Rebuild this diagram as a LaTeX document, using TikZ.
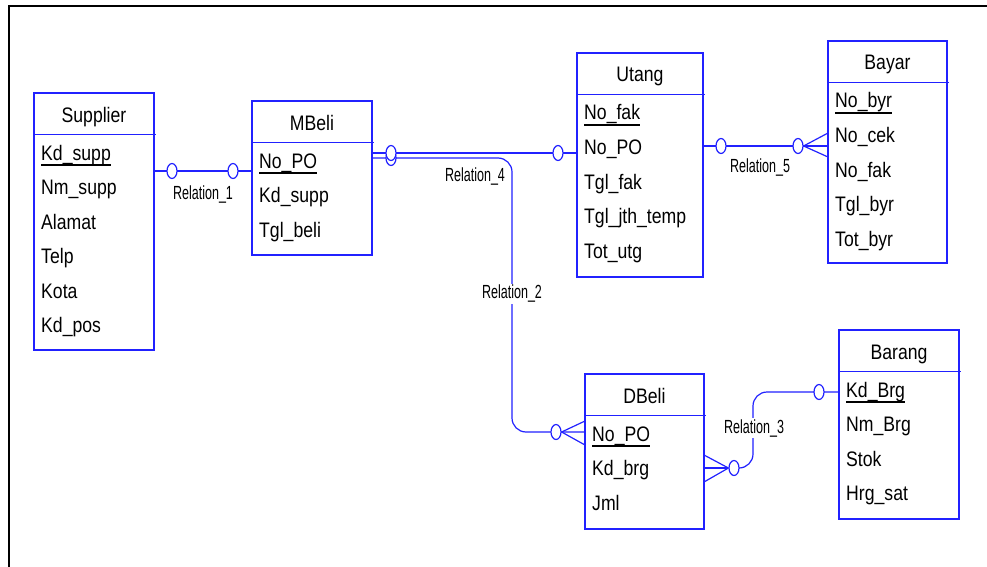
\documentclass[tikz,border=0pt]{standalone}
\usepackage{fontspec}
\setmainfont{Liberation Sans}
\newfontfamily\entfont[FakeStretch=0.84]{Liberation Sans}
\newfontfamily\relfont[FakeStretch=0.66]{Liberation Sans}
\usetikzlibrary{calc,shapes.geometric}
\definecolor{eblue}{rgb}{0.13,0.13,1}
\newcommand\keyul[1]{\setbox0=\hbox{#1}\rlap{\rule[-6pt]{\wd0}{2pt}}\box0}
\tikzset{
  ent/.style={draw=eblue, line width=1.2pt, fill=white, anchor=north west, inner sep=0pt, outer sep=0pt},
  eline/.style={draw=eblue, line width=1.2pt},
  rel/.style={draw=eblue, line width=1.2pt},
  etext/.style={font=\entfont\fontsize{21}{22}\selectfont, inner sep=0pt, text=black},
  oc/.style={ellipse, draw=eblue, line width=1.2pt, fill=white, minimum width=10pt, minimum height=15pt, inner sep=0pt},
  lbl/.style={font=\relfont\fontsize{19}{20}\selectfont, fill=white, inner sep=1.5pt, text=black},
}
\newcommand\mkent[7]{%
  \node[ent, minimum width=#4pt, minimum height=#5pt] (#1) at (#2,#3) {};
  \draw[eline] ($(#1.north west)+(0,41.5)$) -- ++(#4+2,0);
  \node[etext, anchor=base] (#1-t) at ($(#1.north)+(0,29)$) {#6};
  \foreach \r [count=\i] in {#7} {
    \node[etext, anchor=base west] (#1-\i) at ($(#1.north west)+(7,{32.5+34.5*\i})$) {\ifnum\i=1 \keyul{\r}\else\r\fi};
  }
}
\begin{document}
\begin{tikzpicture}[x=1pt, y=-1pt]
\useasboundingbox (0,0) rectangle (987,567);
\draw[line width=2.5pt] (9,567) -- (9,6) -- (987,6);

\mkent{sup}{34}{93}{120}{257}{Supplier}{Kd\_supp,Nm\_supp,Alamat,Telp,Kota,Kd\_pos}
\mkent{mbeli}{252}{101}{120}{154}{MBeli}{No\_PO,Kd\_supp,Tgl\_beli}
\mkent{utang}{577}{53}{126}{224}{Utang}{No\_fak,No\_PO,Tgl\_fak,Tgl\_jth\_temp,Tot\_utg}
\mkent{bayar}{828}{41}{119}{222}{Bayar}{No\_byr,No\_cek,No\_fak,Tgl\_byr,Tot\_byr}
\mkent{dbeli}{585}{374}{119}{155}{DBeli}{No\_PO,Kd\_brg,Jml}
\mkent{barang}{839}{330}{120}{189}{Barang}{Kd\_Brg,Nm\_Brg,Stok,Hrg\_sat}

% Relation_1
\coordinate (r1s) at ($(sup.north east)+(0,78)$);
\coordinate (r1e) at ($(mbeli.north west)+(0,70)$);
\draw[rel] (r1s) -- (r1e);
\node[oc] (c1a) at ($(r1s)+(18,0)$) {};
\node[oc] (c1b) at ($(r1e)+(-19,0)$) {};
\node[lbl] (l1) at (203,195) {Relation\_1};

% Relation_2
\coordinate (r2s) at ($(mbeli.north east)+(0,57)$);
\coordinate (r2e) at ($(dbeli.north west)+(0,58)$);
\coordinate (r2k) at ($(r2e)+(-73,0)$);
\draw[rel, rounded corners=14pt] (r2s) -| (r2k) -- (r2e);
\node[lbl] (l2) at (512,294) {Relation\_2};
\node[oc] (c2a) at ($(r2s)+(19,0)$) {};
\node[oc] (c2b) at ($(r2e)+(-29,0)$) {};
\draw[rel] (c2b.east) -- ($(dbeli.north west)+(0,47)$);
\draw[rel] (c2b.east) -- ($(dbeli.north west)+(0,71)$);

% Relation_4
\coordinate (r4s) at ($(mbeli.north east)+(0,52)$);
\coordinate (r4e) at ($(utang.north west)+(0,100)$);
\draw[rel] (r4s) -- (r4e);
\node[oc] (c4a) at ($(r4s)+(19,0)$) {};
\node[oc] (c4b) at ($(r4e)+(-19,0)$) {};
\node[lbl] (l4) at (475,177) {Relation\_4};

% Relation_5
\coordinate (r5s) at ($(utang.north east)+(0,93)$);
\coordinate (r5e) at ($(bayar.north west)+(0,105)$);
\draw[rel] (r5s) -- (r5e);
\node[oc] (c5a) at ($(r5s)+(18,0)$) {};
\node[oc] (c5b) at ($(r5e)+(-30,0)$) {};
\draw[rel] (c5b.east) -- ($(bayar.north west)+(0,92)$);
\draw[rel] (c5b.east) -- ($(bayar.north west)+(0,116)$);
\node[lbl] (l5) at (760,168) {Relation\_5};

% Relation_3
\coordinate (r3s) at ($(dbeli.north east)+(0,94)$);
\coordinate (r3e) at ($(barang.north west)+(0,62)$);
\node[oc] (c3a) at ($(r3s)+(30,0)$) {};
\draw[rel] (r3s) -- (c3a.west);
\draw[rel] ($(dbeli.north east)+(0,81)$) -- (c3a.west);
\draw[rel] ($(dbeli.north east)+(0,108)$) -- (c3a.west);
\coordinate (r3k) at ($(r3e)+(-86,0)$);
\draw[rel, rounded corners=14pt] (c3a.east) -| (r3k) -- (r3e);
\node[oc] (c3b) at ($(r3e)+(-20,0)$) {};
\node[lbl] (l3) at (754,428) {Relation\_3};
\end{tikzpicture}
\end{document}
